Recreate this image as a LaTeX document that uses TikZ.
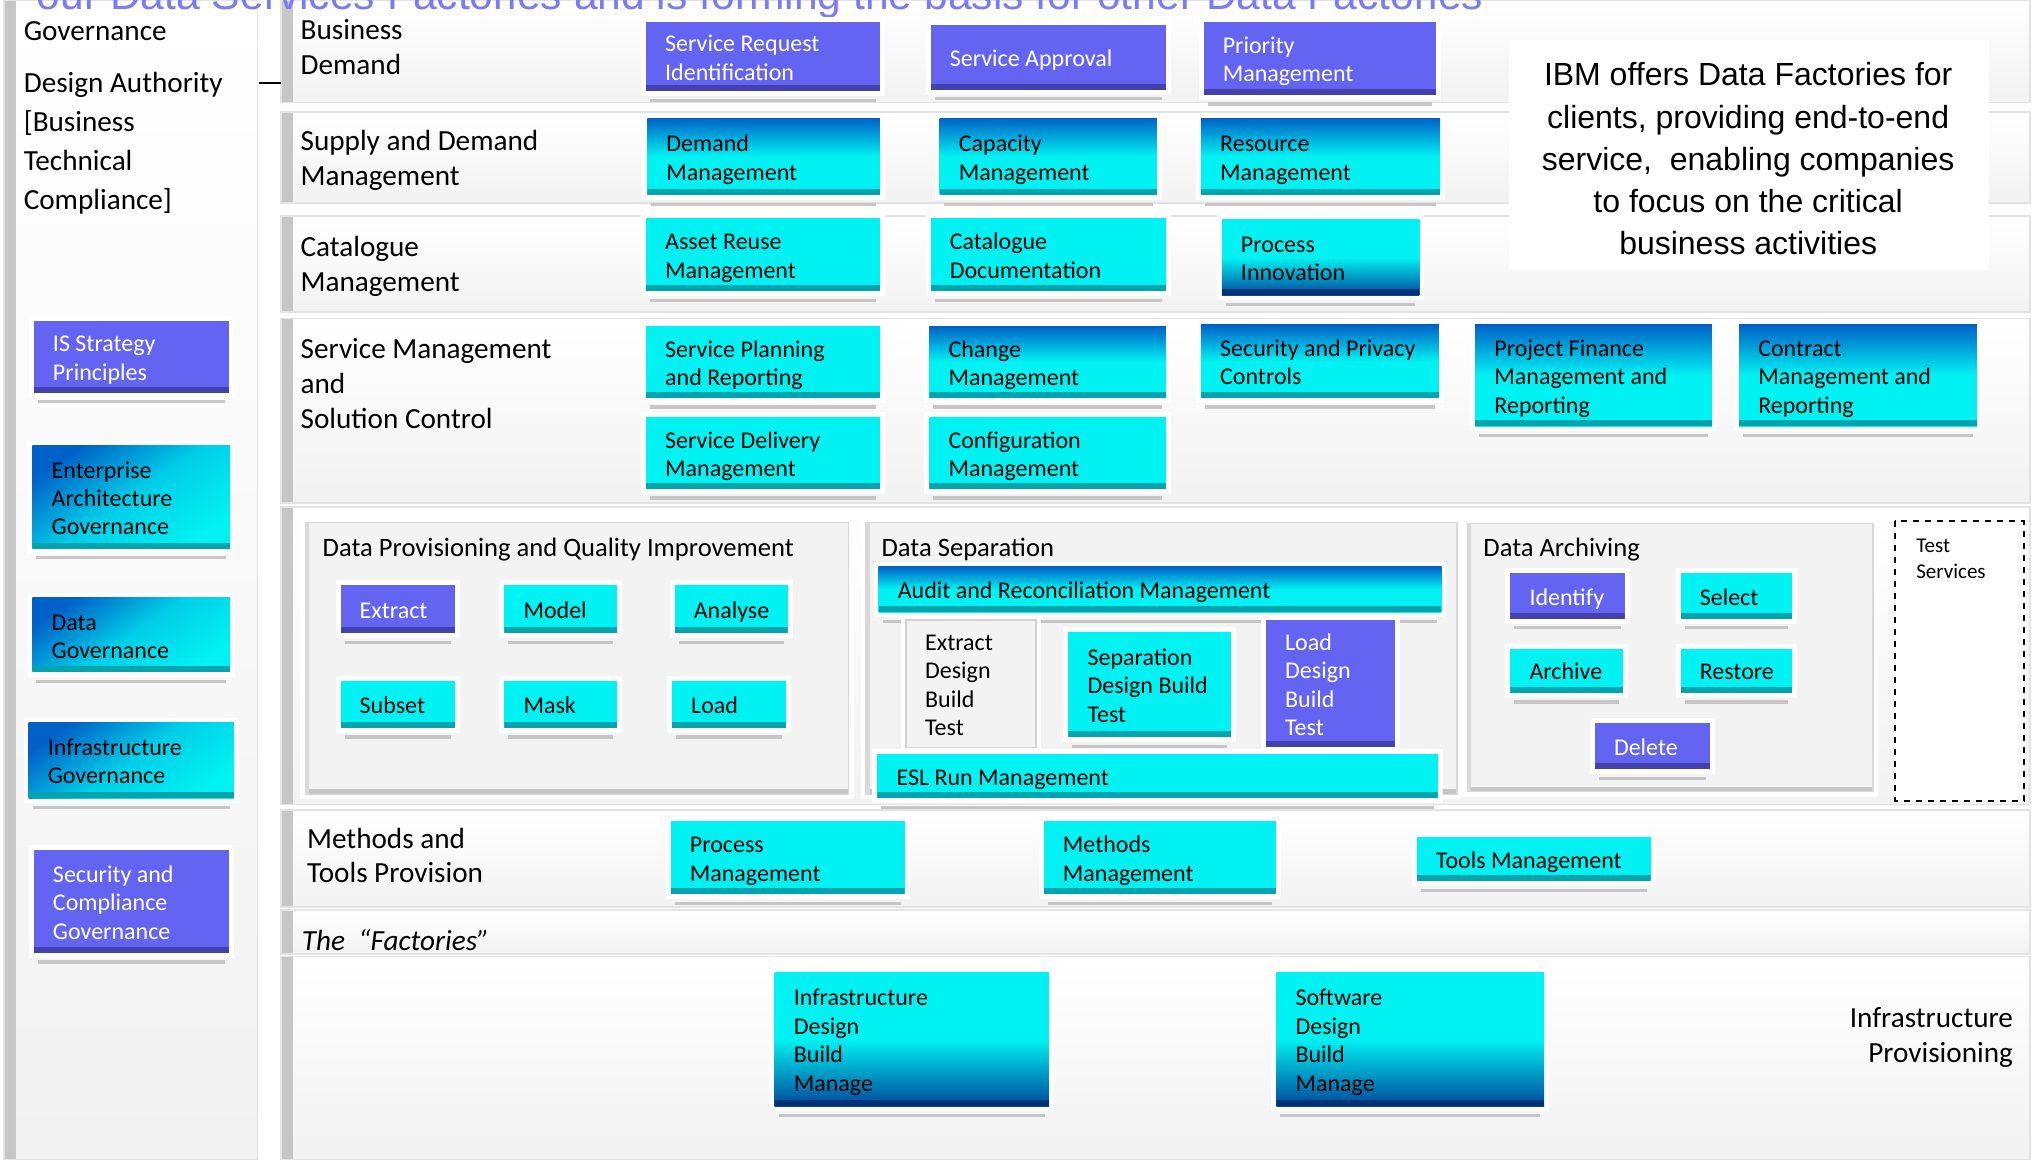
\documentclass[tikz,border=0pt]{standalone}
\usepackage{fontspec}
\setmainfont{Carlito}
\newfontfamily\arialfont{Liberation Sans}
\usetikzlibrary{calc}

\definecolor{titleblue}{RGB}{123,123,245}
\definecolor{violetc}{RGB}{100,100,242}
\definecolor{violetd}{RGB}{66,66,175}
\definecolor{cyanc}{RGB}{0,242,242}
\definecolor{teald}{RGB}{0,165,175}
\definecolor{bluec}{RGB}{0,98,200}
\definecolor{blued}{RGB}{0,72,155}
\definecolor{navyd}{RGB}{0,50,120}
\definecolor{bandc}{RGB}{242,242,242}
\definecolor{panelc}{RGB}{243,243,243}

% service box: name, style, x1, y1, x2, y2, text
\newcommand{\svcbox}[7]{%
  \pgfmathsetlengthmacro{\bw}{(#5-#3)*0.65pt}%
  \pgfmathsetlengthmacro{\bh}{(#6-#4)*0.65pt}%
  \node[#2, minimum width=\bw, minimum height=\bh] (#1) at ({(#3+#5)/2},{(#4+#6)/2}) {};
  \draw[shadowbar] ([xshift=2pt,yshift=-4.6pt]#1.south west) -- ([xshift=-2pt,yshift=-4.6pt]#1.south east);
  \node[boxtext, #2 txt, anchor=west] (#1-t) at ([xshift=9.4pt,yshift=-1.8pt]#1.west) {\strut #7\strut};
}

\begin{document}
\begin{tikzpicture}[x=0.65pt, y=-0.65pt,
  box/.style={rectangle, inner sep=0pt, outer sep=0pt, preaction={draw=white, line width=5pt}},
  vbox/.style={box, fill=violetc, path picture={\fill[violetd] ([yshift=3pt]path picture bounding box.south west) rectangle (path picture bounding box.south east);}},
  cbox/.style={box, fill=cyanc, path picture={\fill[teald] ([yshift=3pt]path picture bounding box.south west) rectangle (path picture bounding box.south east);}},
  tbox/.style={box, top color=bluec, bottom color=cyanc, middle color=cyanc, path picture={\fill[teald] ([yshift=3pt]path picture bounding box.south west) rectangle (path picture bounding box.south east);}},
  bbox/.style={box, top color=cyanc, bottom color=blued, middle color=cyanc, path picture={\fill[navyd] ([yshift=3pt]path picture bounding box.south west) rectangle (path picture bounding box.south east);}},
  dbox/.style={box, top color=bluec, bottom color=cyanc, middle color=cyanc!75!bluec, shading angle=35, path picture={\fill[teald] ([yshift=3pt]path picture bounding box.south west) rectangle (path picture bounding box.south east);}},
  pbox/.style={box, fill=panelc, draw=gray!35, line width=0.8pt},
  vbox txt/.style={text=white},
  cbox txt/.style={}, tbox txt/.style={}, bbox txt/.style={}, dbox txt/.style={}, pbox txt/.style={},
  boxtext/.style={align=left, inner sep=0pt, font=\fontsize{12}{14.2}\selectfont},
  shadowbar/.style={gray!45, line width=1.6pt},
  band/.style={top color=white, bottom color=bandc, draw=gray!22, line width=0.8pt,
    path picture={\shade[left color=gray!45, right color=bandc] (path picture bounding box.south west) rectangle ([xshift=6pt]path picture bounding box.north west);}},
  subpanel/.style={fill=panelc, draw=gray!30, line width=0.6pt, preaction={draw=white, line width=5pt},
    path picture={\fill[gray!45] (path picture bounding box.south west) rectangle ([yshift=2.5pt]path picture bounding box.south east);
      \fill[gray!30] (path picture bounding box.south west) rectangle ([xshift=2pt]path picture bounding box.north west);}},
  rowlabel/.style={align=left, inner sep=0pt, anchor=west, font=\fontsize{14.6}{17.5}\selectfont},
  govlabel/.style={align=left, inner sep=0pt, anchor=west, font=\fontsize{14.6}{19.5}\selectfont},
  dtitle/.style={anchor=west, inner sep=0pt, font=\fontsize{13.3}{16}\selectfont}]

% page
\useasboundingbox (0,0) rectangle (1568,892);
\clip (0,0) rectangle (1568,892);
\fill[white] (0,0) rectangle (1568,892);

% governance column and the rows
\path[band] (3,0) rectangle (198,892);
\path[band] (216,0) rectangle (1562,79);
\path[band] (216,86) rectangle (1562,156);
\path[band] (216,166) rectangle (1562,240);
\path[band] (216,245) rectangle (1562,387);
\path[band] (216,390) rectangle (1562,619);
\path[band] (216,623) rectangle (1562,698);
\path[band] (216,700) rectangle (1562,734);
\path[band] (216,736) rectangle (1562,892);

% data panels
\path[subpanel] (235,402) rectangle (653,611);
\path[subpanel] (666,402) rectangle (1121,611);
\path[subpanel] (1129,403) rectangle (1441,609);
\draw[dashed, line width=0.9pt, fill=white] (1458,401) rectangle (1557,616);

% statement box
\fill[white] (1161,31) rectangle (1530,208);
\node[font=\arialfont\fontsize{16}{21.1}\selectfont, align=center, inner sep=0pt] (ibm) at (1345,124.5)
  {\strut IBM offers Data Factories for\\clients, providing end-to-end\\service,\ \ enabling companies\\to focus on the critical\\business activities\strut};

% title, cut by the top edge
\node[anchor=base west, inner sep=0pt, text=titleblue, font=\arialfont\fontsize{21.3}{25}\selectfont] (title) at (28,7.5)
  {our Data Services Factories and is forming the basis for other Data Factories};

% labels
\node[govlabel] (gov) at (18,25) {\strut Governance\strut};
\node[govlabel] (da) at (18,110) {\strut Design Authority\\{}[Business\\Technical\\Compliance]\strut};
\coordinate (dashL) at (199,64);
\coordinate (dashR) at (216,64);
\draw[line width=1.3pt] (dashL) -- (dashR);

\node[rowlabel] (bd) at (231,38.5) {\strut Business\\Demand\strut};
\node[rowlabel] (sdm-l) at (231,123.5) {\strut Supply and Demand\\Management\strut};
\node[rowlabel] (cat-l) at (231,205.5) {\strut Catalogue\\Management\strut};
\node[rowlabel] (smc-l) at (231,297) {\strut Service Management\\and\\Solution Control\strut};
\node[rowlabel] (mtp-l) at (236,660.5) {\strut Methods and\\Tools Provision\strut};
\node[rowlabel, font=\itshape\fontsize{14.6}{17.5}\selectfont] (fact) at (232,723.5) {The\ \ “Factories”};
\node[rowlabel, anchor=east, align=right] (iprov) at (1549,798.5) {\strut Infrastructure\\Provisioning\strut};

\node[dtitle] (dpq-l) at (248,423) {Data Provisioning and Quality Improvement};
\node[dtitle] (dsep-l) at (678,423) {Data Separation};
\node[dtitle] (darc-l) at (1141,423) {Data Archiving};
\node[align=left, inner sep=0pt, anchor=west, font=\fontsize{10.5}{13}\selectfont] (tst) at (1474,431) {\strut Test\\Services\strut};

% governance boxes
\svcbox{isp}{vbox}{26}{247}{176}{302}{IS Strategy\\Principles}
\svcbox{eag}{dbox}{25}{343}{177}{422}{Enterprise\\Architecture\\Governance}
\svcbox{dgov}{dbox}{25}{460}{177}{517}{Data\\Governance}
\svcbox{igov}{dbox}{22}{556}{180}{614}{Infrastructure\\Governance}
\svcbox{scg}{vbox}{26}{654}{176}{733}{Security and\\Compliance\\Governance}

% business demand
\svcbox{sri}{vbox}{497}{17}{677}{70}{Service Request\\Identification}
\svcbox{sap}{vbox}{716}{19}{897}{69}{Service Approval}
\svcbox{prm}{vbox}{926}{17}{1105}{73}{Priority\\Management}
% supply and demand
\svcbox{dem}{tbox}{498}{91}{677}{150}{Demand\\Management}
\svcbox{cap}{tbox}{723}{91}{890}{150}{Capacity\\Management}
\svcbox{res}{tbox}{924}{91}{1108}{150}{Resource\\Management}
% catalogue
\svcbox{arm}{cbox}{497}{168}{677}{224}{Asset Reuse\\Management}
\svcbox{cdoc}{cbox}{716}{168}{897}{224}{Catalogue\\Documentation}
\svcbox{pinn}{bbox}{940}{169}{1092}{227}{Process\\Innovation}
% service management
\svcbox{spr}{cbox}{497}{251}{677}{306}{Service Planning\\and Reporting}
\svcbox{chg}{tbox}{715}{251}{897}{306}{Change\\Management}
\svcbox{spc}{tbox}{924}{250}{1107}{306}{Security and Privacy\\Controls}
\svcbox{pfm}{tbox}{1135}{250}{1317}{328}{Project Finance\\Management and\\Reporting}
\svcbox{cmr}{tbox}{1338}{250}{1521}{328}{Contract\\Management and\\Reporting}
\svcbox{sdm}{cbox}{497}{321}{677}{376}{Service Delivery\\Management}
\svcbox{cfg}{cbox}{715}{321}{897}{376}{Configuration\\Management}

% data provisioning
\svcbox{ext}{vbox}{262}{450}{350}{487}{Extract}
\svcbox{mdl}{cbox}{388}{450}{475}{487}{Model}
\svcbox{ana}{cbox}{519}{450}{606}{487}{Analyse}
\svcbox{sub}{cbox}{262}{524}{350}{560}{Subset}
\svcbox{msk}{cbox}{388}{524}{475}{560}{Mask}
\svcbox{lod}{cbox}{517}{524}{605}{560}{Load}
% data separation
\svcbox{arc}{tbox}{676}{436}{1109}{471}{Audit and Reconciliation Management}
\svcbox{edbt}{pbox}{697}{477}{797}{575}{Extract\\Design\\Build\\Test}
\svcbox{sdbt}{cbox}{822}{486}{947}{567}{Separation\\Design Build\\Test}
\svcbox{ldbt}{vbox}{974}{477}{1073}{575}{Load\\Design\\Build\\Test}
\svcbox{esl}{cbox}{675}{580}{1106}{614}{ESL Run Management}
% data archiving
\svcbox{idf}{vbox}{1162}{441}{1250}{476}{Identify}
\svcbox{sel}{cbox}{1293}{441}{1379}{476}{Select}
\svcbox{arv}{cbox}{1162}{499}{1249}{533}{Archive}
\svcbox{rst}{cbox}{1293}{499}{1379}{533}{Restore}
\svcbox{del}{vbox}{1227}{556}{1316}{592}{Delete}

% methods and tools
\svcbox{pmg}{cbox}{516}{632}{696}{688}{Process\\Management}
\svcbox{mmg}{cbox}{803}{632}{982}{688}{Methods\\Management}
\svcbox{tmg}{cbox}{1090}{644}{1270}{678}{Tools Management}
% factories
\svcbox{ifb}{bbox}{596}{748}{807}{851}{Infrastructure\\Design\\Build\\Manage}
\svcbox{swb}{bbox}{982}{748}{1188}{851}{Software\\Design\\Build\\Manage}
\end{tikzpicture}
\end{document}
